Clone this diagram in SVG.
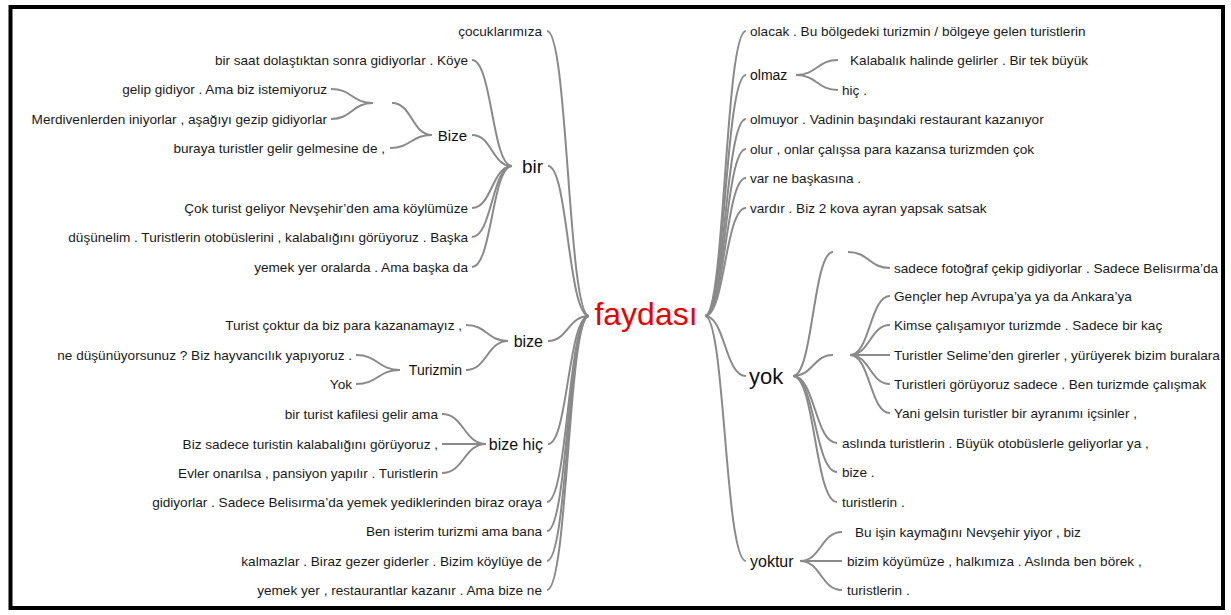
<svg xmlns="http://www.w3.org/2000/svg" width="1231" height="615" viewBox="0 0 1231 615">
<style>
.t{font-family:"Liberation Sans",Arial,sans-serif;font-size:13.6px;fill:#1a1a1a}
.e{text-anchor:end}
.c path{fill:none;stroke:#8a8a8a;stroke-width:2}
</style>
<rect x="0" y="0" width="1231" height="615" fill="#fff"/>
<rect x="10.5" y="7" width="1212.5" height="601" fill="none" stroke="#000" stroke-width="4"/>
<g class="c" id="connectors">
<!-- left root -->
<path d="M589 316C568 316 568 31 547 31"/>
<path d="M589 316C568 316 568 166 548 166"/>
<path d="M589 316C568 316 568 341 548 341"/>
<path d="M589 316C568 316 568 444 548 444"/>
<path d="M589 316C568 316 568 502 547 502"/>
<path d="M589 316C568 316 568 531 547 531"/>
<path d="M589 316C568 316 568 561 547 561"/>
<path d="M589 316C568 316 568 590 547 590"/>
<!-- bir -->
<path d="M512 166C492 166 492 60 472 60"/>
<path d="M512 166C492 166 492 135 472 135"/>
<path d="M512 166C492 166 492 208 472 208"/>
<path d="M512 166C492 166 492 237 472 237"/>
<path d="M512 166C492 166 492 267 472 267"/>
<!-- Bize -->
<path d="M432 135C411 135 411 148 390 148"/>
<path d="M432 135C412 135 412 103 392 103"/>
<path d="M373 103C352 103 352 89 331 89"/>
<path d="M373 103C352 103 352 119 331 119"/>
<!-- bize -->
<path d="M508 341C487 341 487 325 466 325"/>
<path d="M508 341C487 341 487 370 466 370"/>
<path d="M400 370C378 370 378 355 356 355"/>
<path d="M400 370C378 370 378 384 356 384"/>
<!-- bize hiç -->
<path d="M486 444C464 444 464 414 442 414"/>
<path d="M486 444C464 444 464 444 442 444"/>
<path d="M486 444C464 444 464 473 442 473"/>
<!-- right root -->
<path d="M705 316C725 316 725 31 746 31"/>
<path d="M705 316C725 316 725 75 746 75"/>
<path d="M705 316C725 316 725 119 746 119"/>
<path d="M705 316C725 316 725 149 746 149"/>
<path d="M705 316C725 316 725 178 746 178"/>
<path d="M705 316C725 316 725 208 746 208"/>
<path d="M705 316C725 316 725 376 746 376"/>
<path d="M705 316C725 316 725 561 746 561"/>
<!-- olmaz -->
<path d="M796 75C817 75 817 60 838 60"/>
<path d="M796 75C817 75 817 90 838 90"/>
<!-- yok -->
<path d="M793 376C813 376 813 252 833 252"/>
<path d="M793 376C813 376 813 355 833 355"/>
<path d="M793 376C815 376 815 443 837 443"/>
<path d="M793 376C815 376 815 472 837 472"/>
<path d="M793 376C815 376 815 502 837 502"/>
<path d="M848 252C869 252 869 268 890 268"/>
<path d="M850 355C870 355 870 296 890 296"/>
<path d="M850 355C870 355 870 325 890 325"/>
<path d="M850 355C870 355 870 355 890 355"/>
<path d="M850 355C870 355 870 384 890 384"/>
<path d="M850 355C870 355 870 413 890 413"/>
<!-- yoktur -->
<path d="M800 561C821 561 821 532 842 532"/>
<path d="M800 561C821 561 821 561 842 561"/>
<path d="M800 561C821 561 821 590 842 590"/>
</g>
<g id="root"><text x="646" y="325" style="font-family:'Liberation Sans',Arial,sans-serif;font-size:32px;fill:#ee0000;text-anchor:middle">faydası</text></g>
<g id="left">
<g id="n-cocuk"><text class="t e" x="542" y="35.5">çocuklarımıza</text></g>
<g id="n-bir"><text class="e" x="543" y="172.5" style="font-family:'Liberation Sans',Arial,sans-serif;font-size:19px;fill:#111">bir</text></g>
<g id="n-birsaat"><text class="t e" x="468" y="64.5">bir saat dolaştıktan sonra gidiyorlar . Köye</text></g>
<g id="n-Bize"><text class="e" x="467" y="140.5" style="font-family:'Liberation Sans',Arial,sans-serif;font-size:15px;fill:#111">Bize</text></g>
<g id="n-gelip"><text class="t e" x="327" y="93.5">gelip gidiyor . Ama biz istemiyoruz</text></g>
<g id="n-merdiven"><text class="t e" x="327" y="123.5">Merdivenlerden iniyorlar , aşağıyı gezip gidiyorlar</text></g>
<g id="n-buraya"><text class="t e" x="385" y="152.5">buraya turistler gelir gelmesine de ,</text></g>
<g id="n-cok"><text class="t e" x="468" y="212.5">Çok turist geliyor Nevşehir’den ama köylümüze</text></g>
<g id="n-dusunelim"><text class="t e" x="468" y="241.5">düşünelim . Turistlerin otobüslerini , kalabalığını görüyoruz . Başka</text></g>
<g id="n-yemekyer"><text class="t e" x="468" y="271.5">yemek yer oralarda . Ama başka da</text></g>
<g id="n-bize"><text class="e" x="543" y="346.5" style="font-family:'Liberation Sans',Arial,sans-serif;font-size:16px;fill:#111">bize</text></g>
<g id="n-turist"><text class="t e" x="462" y="329.5">Turist çoktur da biz para kazanamayız ,</text></g>
<g id="n-Turizmin"><text class="e" x="462" y="375" style="font-family:'Liberation Sans',Arial,sans-serif;font-size:14px;fill:#111">Turizmin</text></g>
<g id="n-ne"><text class="t e" x="352" y="359.5">ne düşünüyorsunuz ? Biz hayvancılık yapıyoruz .</text></g>
<g id="n-Yok"><text class="t e" x="352" y="388.5">Yok</text></g>
<g id="n-bizehic"><text class="e" x="543" y="449.5" style="font-family:'Liberation Sans',Arial,sans-serif;font-size:16px;fill:#111">bize hiç</text></g>
<g id="n-kafile"><text class="t e" x="438" y="418.5">bir turist kafilesi gelir ama</text></g>
<g id="n-bizsadece"><text class="t e" x="438" y="448.5">Biz sadece turistin kalabalığını görüyoruz ,</text></g>
<g id="n-evler"><text class="t e" x="438" y="477.5">Evler onarılsa , pansiyon yapılır . Turistlerin</text></g>
<g id="n-gidiyorlar"><text class="t e" x="542" y="506.5">gidiyorlar . Sadece Belisırma’da yemek yediklerinden biraz oraya</text></g>
<g id="n-ben"><text class="t e" x="542" y="535.5">Ben isterim turizmi ama bana</text></g>
<g id="n-kalmazlar"><text class="t e" x="542" y="565.5">kalmazlar . Biraz gezer giderler . Bizim köylüye de</text></g>
<g id="n-yemek2"><text class="t e" x="542" y="594.5">yemek yer , restaurantlar kazanır . Ama bize ne</text></g>
</g>
<g id="right">
<g id="n-olacak"><text class="t" x="750" y="35.5">olacak . Bu bölgedeki turizmin / bölgeye gelen turistlerin</text></g>
<g id="n-olmaz"><text x="750" y="80" style="font-family:'Liberation Sans',Arial,sans-serif;font-size:14px;fill:#111">olmaz</text></g>
<g id="n-kalabalik"><text class="t" x="850" y="64.5">Kalabalık halinde gelirler . Bir tek büyük</text></g>
<g id="n-hic"><text class="t" x="842" y="94.5">hiç .</text></g>
<g id="n-olmuyor"><text class="t" x="750" y="123.5">olmuyor . Vadinin başındaki restaurant kazanıyor</text></g>
<g id="n-olur"><text class="t" x="750" y="153.5">olur , onlar çalışsa para kazansa turizmden çok</text></g>
<g id="n-var"><text class="t" x="750" y="182.5">var ne başkasına .</text></g>
<g id="n-vardir"><text class="t" x="750" y="212.5">vardır . Biz 2 kova ayran yapsak satsak</text></g>
<g id="n-yok"><text x="749" y="383.5" style="font-family:'Liberation Sans',Arial,sans-serif;font-size:22px;fill:#111">yok</text></g>
<g id="n-sadece"><text class="t" x="894" y="272.5">sadece fotoğraf çekip gidiyorlar . Sadece Belisırma’da</text></g>
<g id="n-gencler"><text class="t" x="894" y="300.5">Gençler hep Avrupa’ya ya da Ankara’ya</text></g>
<g id="n-kimse"><text class="t" x="894" y="329.5">Kimse çalışamıyor turizmde . Sadece bir kaç</text></g>
<g id="n-selime"><text class="t" x="894" y="359.5">Turistler Selime’den girerler , yürüyerek bizim buralara</text></g>
<g id="n-goruyoruz"><text class="t" x="894" y="388.5">Turistleri görüyoruz sadece . Ben turizmde çalışmak</text></g>
<g id="n-yani"><text class="t" x="894" y="417.5">Yani gelsin turistler bir ayranımı içsinler ,</text></g>
<g id="n-aslinda"><text class="t" x="842" y="447.5">aslında turistlerin . Büyük otobüslerle geliyorlar ya ,</text></g>
<g id="n-bize2"><text class="t" x="842" y="476.5">bize .</text></g>
<g id="n-turistlerin1"><text class="t" x="842" y="506.5">turistlerin .</text></g>
<g id="n-yoktur"><text x="750" y="566.5" style="font-family:'Liberation Sans',Arial,sans-serif;font-size:16px;fill:#111">yoktur</text></g>
<g id="n-buisin"><text class="t" x="855" y="536.5">Bu işin kaymağını Nevşehir yiyor , biz</text></g>
<g id="n-bizim"><text class="t" x="847" y="565.5">bizim köyümüze , halkımıza . Aslında ben börek ,</text></g>
<g id="n-turistlerin2"><text class="t" x="847" y="594.5">turistlerin .</text></g>
</g>
</svg>
